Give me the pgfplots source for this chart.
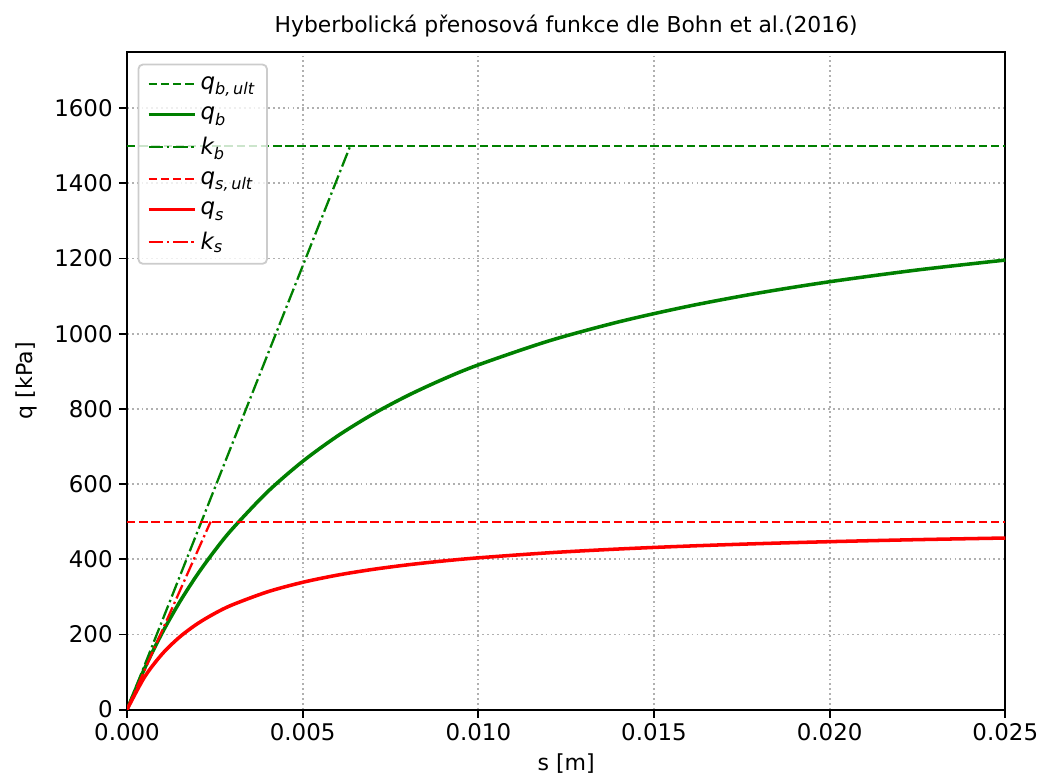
\documentclass[border=0pt]{standalone}
\usepackage{amsmath}
\usepackage{fontspec}
\setmainfont{DejaVu Sans}
\usepackage{pgfplots}
\pgfplotsset{compat=1.18}
\definecolor{mgreen}{RGB}{0,128,0}
\definecolor{mred}{RGB}{255,0,0}
\definecolor{gridgray}{RGB}{176,176,176}
\newcommand{\li}[2]{$\textit{#1}_{\textit{#2}}$}
\begin{document}
\begin{tikzpicture}
\begin{axis}[
  scale only axis,
  width=498pt, height=373pt,
  xmin=0, xmax=0.025, ymin=0, ymax=1750,
  xtick={0,0.005,0.01,0.015,0.02,0.025},
  ytick={0,200,400,600,800,1000,1200,1400,1600},
  scaled x ticks=false,
  xticklabel style={/pgf/number format/.cd, fixed, fixed zerofill, precision=3},
  yticklabel style={/pgf/number format/.cd, 1000 sep={}},
  /pgf/number format/assume math mode=true,
  tick align=outside, tick pos=left,
  major tick length=4.6pt,
  every tick/.style={black, line width=1.04pt},
  axis line style={line width=1.04pt},
  grid=major,
  major grid style={gridgray, line width=1.04pt, dash pattern=on 1.04pt off 1.72pt},
  title={Hyberbolická přenosová funkce dle Bohn et al.(2016)},
  title style={font=\fontsize{12.4}{15}\selectfont, yshift=-1pt},
  xlabel={s [m]}, ylabel={q [kPa]},
  ylabel style={yshift=3pt},
  label style={font=\fontsize{12.5}{15}\selectfont},
  ticklabel style={font=\fontsize{13}{15.6}\selectfont},
  legend cell align=left,
  legend style={at={(0.012,0.982)}, anchor=north west, draw=black!20, rounded corners=2.5pt,
    line width=1.04pt,
    fill=white, fill opacity=0.8, text opacity=1, font=\fontsize{13}{15.6}\selectfont,
    row sep=4.3pt, inner sep=4.8pt},
  legend image code/.code={\draw[#1] (0cm,0cm) -- (0.93cm,0cm);},
]
\addplot[mgreen, line width=1.3pt, dash pattern=on 4.8pt off 2.1pt] coordinates {(0,1500) (0.025,1500)};
\addlegendentry{\li{q}{b,\,ult}}
\addplot[mgreen, line width=2pt, smooth, tension=0.5] coordinates {
(0,0) (0.0005,109.4) (0.001,203.9) (0.0015,286.4) (0.002,359.0) (0.0025,423.4)
(0.003,481.0) (0.004,579.4) (0.005,660.4) (0.006,728.4) (0.007,786.2) (0.008,835.9)
(0.009,879.1) (0.010,917.1) (0.012,980.6) (0.014,1031.6) (0.016,1073.5) (0.018,1108.6)
(0.020,1138.3) (0.0225,1169.6) (0.025,1195.9)};
\addlegendentry{\li{q}{b}}
\addplot[mgreen, line width=1.3pt, dash pattern=on 8.3pt off 2.1pt on 1.3pt off 2.1pt] coordinates {(0,0) (0.006356,1500)};
\addlegendentry{\li{k}{b}}
\addplot[mred, line width=1.3pt, dash pattern=on 4.8pt off 2.1pt] coordinates {(0,500) (0.025,500)};
\addlegendentry{\li{q}{s,\,ult}}
\addplot[mred, line width=2pt, smooth, tension=0.5] coordinates {
(0,0) (0.0005,86.8) (0.001,147.9) (0.0015,193.3) (0.002,228.3) (0.0025,256.1)
(0.003,278.8) (0.004,313.4) (0.005,338.7) (0.006,358.0) (0.007,373.1) (0.008,385.3)
(0.009,395.4) (0.010,403.8) (0.012,417.2) (0.014,427.3) (0.016,435.2) (0.018,441.6)
(0.020,446.8) (0.0225,452.2) (0.025,456.5)};
\addlegendentry{\li{q}{s}}
\addplot[mred, line width=1.3pt, dash pattern=on 8.3pt off 2.1pt on 1.3pt off 2.1pt] coordinates {(0,0) (0.00238,500)};
\addlegendentry{\li{k}{s}}
\end{axis}
\path (current bounding box.north west) -- ++(-5.5pt,5pt);
\end{tikzpicture}
\end{document}
